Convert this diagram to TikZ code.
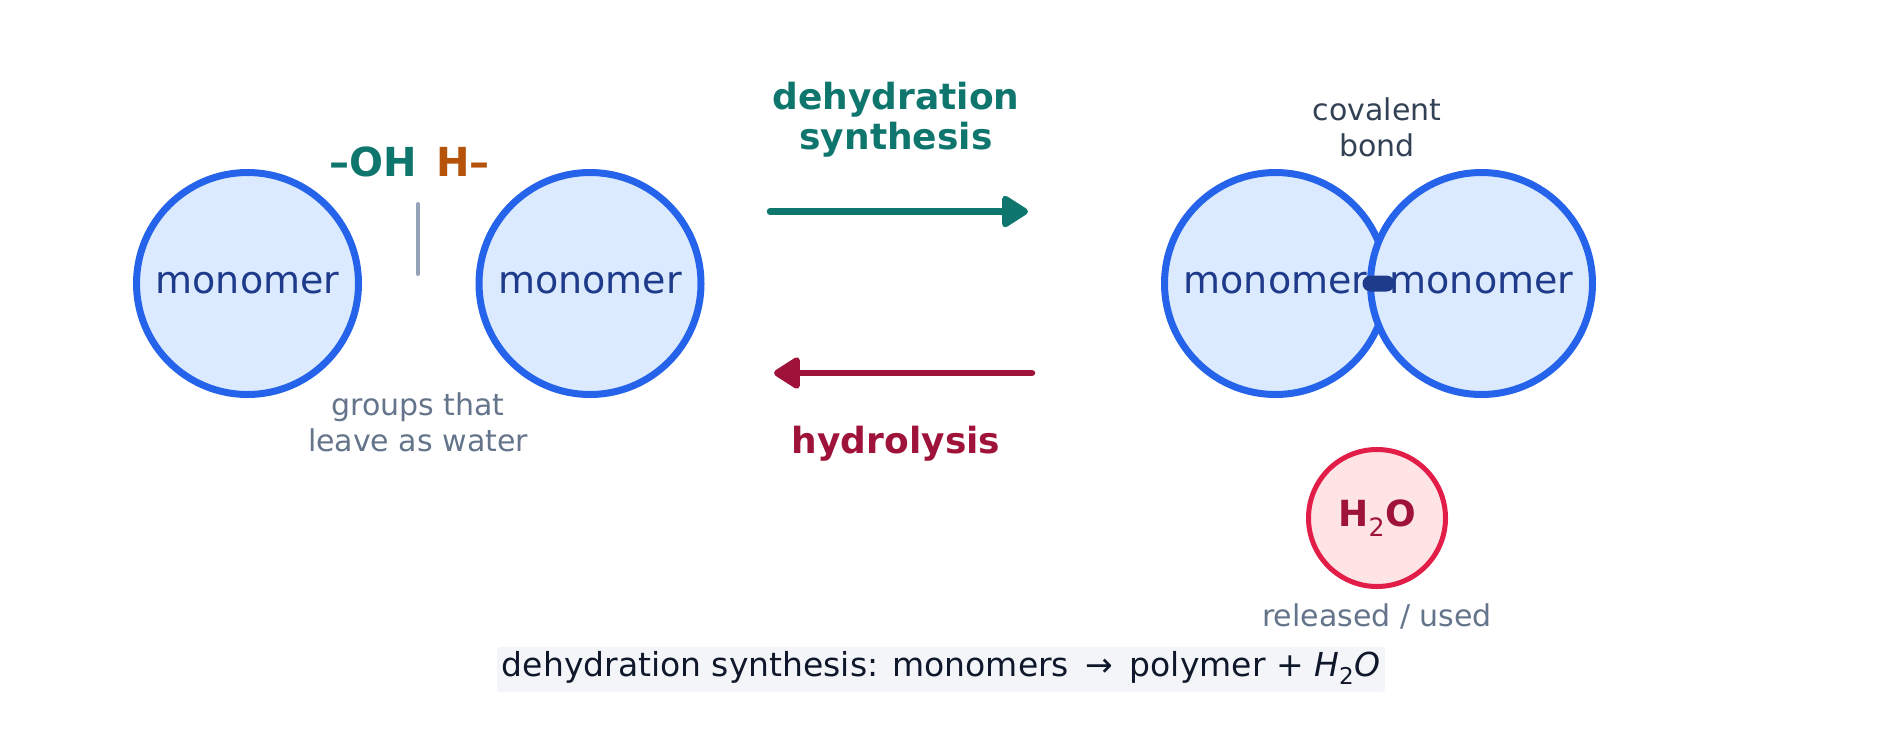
\documentclass[tikz,border=0pt]{standalone}
\usepackage{fontspec}
\setmainfont{DejaVu Sans}
\usetikzlibrary{arrows.meta}
\definecolor{ringblue}{HTML}{2563EB}
\definecolor{cellblue}{HTML}{DBEAFE}
\definecolor{inknavy}{HTML}{1E3A8A}
\definecolor{synteal}{HTML}{0F766E}
\definecolor{hydcrim}{HTML}{9F1239}
\definecolor{hgrporange}{HTML}{B45309}
\definecolor{notegray}{HTML}{64748B}
\definecolor{sepgray}{HTML}{94A3B8}
\definecolor{bondslate}{HTML}{334155}
\definecolor{waterred}{HTML}{E11D48}
\definecolor{waterpink}{HTML}{FFE4E6}
\definecolor{capink}{HTML}{0F172A}
\definecolor{capbg}{HTML}{F3F5F8}
\begin{document}
\begin{tikzpicture}[x=1pt, y=-1pt,
  monomer/.style={circle, draw=ringblue, fill=cellblue, line width=7pt, minimum size=222pt,
    inner sep=0pt, text=inknavy, font=\fontsize{38}{44}\selectfont},
  water/.style={circle, draw=waterred, fill=waterpink, line width=5pt, minimum size=137pt,
    inner sep=0pt, text=hydcrim, font=\bfseries\fontsize{36}{40}\selectfont},
  grp/.style={inner sep=0pt, anchor=base, font=\bfseries\fontsize{40}{44}\selectfont},
  note/.style={inner sep=0pt, align=center, text=notegray, font=\fontsize{30}{36}\selectfont},
  rxnlabel/.style={inner sep=0pt, align=center, font=\bfseries\fontsize{36}{40}\selectfont},
  rxn/.style={line width=6.5pt, line cap=round, -{Triangle[length=29pt, width=35pt, round]}}]
\useasboundingbox (0,0) rectangle (1884,729);
% two free monomers
\node[monomer] (monoA) at (247.5,283.5) {monomer};
\node[monomer] (monoB) at (590,283.5) {monomer};
\node[grp, text=synteal] (ohgrp) at (373,176.7) {–OH};
\node[grp, text=hgrporange] (hgrp) at (463,176.7) {H–};
\coordinate (sepTop) at (418,204);
\coordinate (sepBot) at (418,274);
\draw[sepgray, line width=4pt, line cap=round] (sepTop) -- (sepBot);
\node[note] (leaves) at (418,422.6) {groups that\\leave as water};
% the two reactions
\node[rxnlabel, text=synteal] (synlbl) at (896,119.5) {dehydration\\synthesis};
\coordinate (synL) at (770,211.5);
\coordinate (synR) at (1028,211.5);
\draw[rxn, synteal] (synL) -- (synR);
\coordinate (hydR) at (1032,373);
\coordinate (hydL) at (774,373);
\draw[rxn, hydcrim] (hydR) -- (hydL);
\node[rxnlabel, text=hydcrim, anchor=base] (hydlbl) at (896,453) {hydrolysis};
% joined pair
\node[note, text=bondslate] (bondlbl) at (1377,127.8) {covalent\\bond};
\node[monomer] (monoC) at (1275.5,283.5) {monomer};
\node[monomer] (monoD) at (1481.5,283.5) {monomer};
\node[fill=inknavy, rounded corners=8pt, minimum width=32pt, minimum height=16pt,
  inner sep=0pt] (bond) at (1378.5,283.5) {};
\node[water] (water) at (1377,518) {H\textsubscript{\mdseries 2}O};
\node[note, anchor=base] (wlbl) at (1377,626) {released / used};
% caption
\node[fill=capbg, rounded corners=3pt, minimum width=888pt, minimum height=45pt, inner sep=0pt,
  text height=22pt, text depth=9pt, text=capink, font=\fontsize{33}{36}\selectfont]
  (caption) at (941,669.5)
  {dehydration synthesis: monomers\hspace{6pt} → \hspace{6pt}polymer + \textit{H}\textsubscript{2}\textit{O}};
\end{tikzpicture}
\end{document}
